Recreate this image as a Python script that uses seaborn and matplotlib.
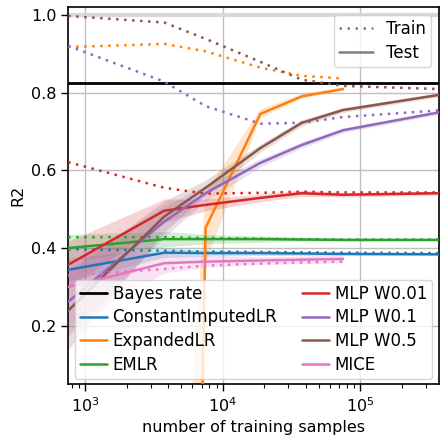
import matplotlib
matplotlib.use("Agg")
import matplotlib.pyplot as plt
from matplotlib.lines import Line2D
import numpy as np
import pandas as pd
import seaborn as sns

# training-set sizes (log x axis)
n_train = [750, 3750, 7500, 18750, 37500, 75000, 375000]
bayes_rate = 0.825

methods = ["ConstantImputedLR", "ExpandedLR", "EMLR",
           "MLP W0.01", "MLP W0.1", "MLP W0.5", "MICE"]
colors = sns.color_palette("tab10", 7)

# test R2 (solid), train R2 (dotted), half-width of the test band
test_constant = [0.344, 0.388, 0.387, 0.387, 0.386, 0.385, 0.384]
train_constant = [0.397, 0.393, 0.391, 0.390, 0.389, 0.388, 0.387]
ci_constant = [0.03, 0.012, 0.008, 0.006, 0.005, 0.004, 0.003]

test_expanded = [-12.0, -5.0, 0.452, 0.745, 0.790, 0.809, np.nan]
train_expanded = [0.917, 0.925, 0.906, 0.864, 0.843, 0.836, np.nan]
ci_expanded = [8.0, 4.0, 0.09, 0.012, 0.006, 0.004, np.nan]

test_em = [0.400, 0.423, 0.423, 0.423, 0.422, 0.421, 0.421]
train_em = [0.428, 0.428, 0.426, 0.424, 0.423, 0.422, 0.422]
ci_em = [0.035, 0.02, 0.012, 0.008, 0.005, 0.004, 0.003]

test_mlp001 = [0.357, 0.496, 0.511, 0.529, 0.541, 0.537, 0.541]
train_mlp001 = [0.621, 0.555, 0.540, 0.542, 0.545, 0.543, 0.543]
ci_mlp001 = [0.06, 0.03, 0.015, 0.01, 0.008, 0.006, 0.005]

test_mlp01 = [0.262, 0.468, 0.541, 0.619, 0.665, 0.703, 0.749]
train_mlp01 = [0.920, 0.828, 0.765, 0.720, 0.722, 0.737, 0.754]
ci_mlp01 = [0.09, 0.04, 0.02, 0.01, 0.008, 0.006, 0.005]

test_mlp05 = [0.239, 0.481, 0.555, 0.657, 0.722, 0.755, 0.794]
train_mlp05 = [0.997, 0.980, 0.938, 0.879, 0.833, 0.817, 0.809]
ci_mlp05 = [0.10, 0.04, 0.02, 0.01, 0.008, 0.006, 0.005]

test_mice = [0.300, 0.361, 0.365, 0.368, 0.370, 0.372, np.nan]
train_mice = [0.330, 0.346, 0.355, 0.360, 0.363, 0.365, np.nan]
ci_mice = [0.10, 0.025, 0.015, 0.01, 0.01, 0.01, np.nan]

test_all = [test_constant, test_expanded, test_em, test_mlp001,
            test_mlp01, test_mlp05, test_mice]
train_all = [train_constant, train_expanded, train_em, train_mlp001,
             train_mlp01, train_mlp05, train_mice]
ci_all = [ci_constant, ci_expanded, ci_em, ci_mlp001,
          ci_mlp01, ci_mlp05, ci_mice]

sns.set_theme(style="ticks", rc={"axes.grid": True, "grid.color": "0.75",
                                 "axes.edgecolor": "black",
                                 "xtick.color": "black", "ytick.color": "black",
                                 "text.color": "black", "axes.labelcolor": "black",
                                 "legend.fancybox": True, "legend.edgecolor": "0.8",
                                 "legend.framealpha": 0.8})
plt.rcParams["font.family"] = ["DejaVu Sans"]
plt.rcParams["font.size"] = 11.5

fig = plt.figure(figsize=(4.4, 4.37), dpi=100)
ax = fig.add_axes([0.155, 0.121, 0.843, 0.863])

ax.axhline(1.0, color="0.85", lw=3, zorder=1)
ax.axhline(bayes_rate, color="black", lw=2, zorder=3)

n_arr = np.array(n_train, dtype=float)
for name, col, te, tr, ci in zip(methods, colors, test_all, train_all, ci_all):
    te = np.array(te)
    ci = np.array(ci)
    ax.fill_between(n_arr, te - ci, te + ci, color=col, alpha=0.2, lw=0, zorder=2)
    sns.lineplot(x=n_arr, y=te, ax=ax, color=col, lw=1.8, zorder=3)
    sns.lineplot(x=n_arr, y=np.array(tr), ax=ax, color=col, lw=1.8,
                 linestyle=(0, (1, 2.2)), zorder=3)

ax.set_xscale("log")
ax.set_xlim(750, 375000)
ax.set_ylim(0.05, 1.02)
ax.set_yticks([0.2, 0.4, 0.6, 0.8, 1.0])
ax.tick_params(axis="both", labelsize=11.5, length=5, width=1)
ax.tick_params(axis="x", which="minor", length=3, width=0.8, bottom=True)
ax.set_xlabel("number of training samples", fontsize=11.5)
ax.set_ylabel("R2", fontsize=11.5)
for s in ax.spines.values():
    s.set_linewidth(1.2)

split_handles = [Line2D([], [], color="0.5", lw=1.8, linestyle=(0, (1, 2.2))),
                 Line2D([], [], color="0.5", lw=1.8)]
leg1 = ax.legend(split_handles, ["Train", "Test"], loc="upper right",
                 fontsize=12, frameon=True, borderpad=0.3, labelspacing=0.35)
ax.add_artist(leg1)

meth_handles = [Line2D([], [], color="black", lw=2)] + \
    [Line2D([], [], color=c, lw=1.8) for c in colors]
meth_labels = ["Bayes rate"] + methods
ax.legend(meth_handles, meth_labels, loc="lower center", ncol=2,
          fontsize=12, frameon=True, handlelength=1.6, handletextpad=0.35,
          columnspacing=1.5, borderaxespad=0.3, borderpad=0.3,
          labelspacing=0.35)

fig.savefig("out.png", dpi=100)
